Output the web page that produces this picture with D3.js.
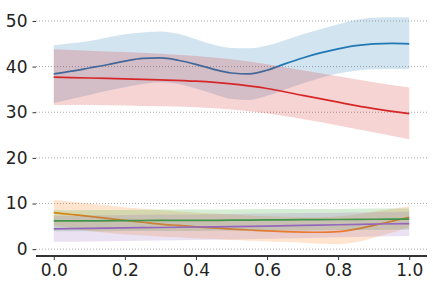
<!DOCTYPE html>
<html>
<head>
<meta charset="utf-8">
<script src="https://cdn.jsdelivr.net/npm/d3@7"></script>
<style>
  body { margin: 0; background: #fff; }
  text { font-family: "DejaVu Sans", sans-serif; }
</style>
</head>
<body>
<div id="chart"></div>
<script>
// sample positions
const xsFine = [0, 0.05, 0.1, 0.15, 0.2, 0.25, 0.3, 0.35, 0.4, 0.45, 0.5, 0.55, 0.6, 0.65, 0.7, 0.75, 0.8, 0.85, 0.9, 0.95, 1.0];
const xs = [0, 0.1, 0.2, 0.3, 0.4, 0.5, 0.6, 0.7, 0.8, 0.9, 1.0];

// blue
const blueMean  = [38.4, 39.0, 39.7, 40.4, 41.2, 41.8, 41.9, 41.4, 40.5, 39.4, 38.6, 38.4, 39.2, 40.6, 41.9, 43.0, 43.9, 44.6, 45.0, 45.1, 45.0];
const blueUpper = [44.7, 45.1, 45.6, 46.4, 47.1, 47.5, 47.7, 47.2, 46.0, 44.8, 44.1, 44.0, 44.6, 45.8, 47.1, 48.2, 49.3, 50.2, 50.7, 50.8, 50.8];
const blueLower = [32.0, 32.9, 33.8, 34.7, 35.5, 36.2, 36.6, 36.2, 35.2, 34.0, 32.9, 32.7, 33.6, 35.0, 36.3, 37.5, 38.5, 39.1, 39.4, 39.5, 39.5];

// orange
const orangeMean  = [8.0, 7.6, 7.2, 6.75, 6.3, 5.9, 5.5, 5.2, 4.9, 4.65, 4.4, 4.2, 4.0, 3.85, 3.75, 3.7, 3.85, 4.4, 5.2, 6.1, 7.0];
const orangeUpper = [10.8, 10.4, 10.0, 9.6, 9.2, 8.85, 8.5, 8.25, 8.0, 7.8, 7.6, 7.4, 7.2, 7.1, 7.0, 7.0, 7.2, 7.6, 8.2, 8.8, 9.4];
const orangeLower = [5.2, 4.6, 4.0, 3.6, 3.2, 3.0, 2.8, 2.6, 2.4, 2.2, 2.0, 1.85, 1.7, 1.55, 1.4, 1.2, 1.1, 1.5, 2.5, 3.6, 4.8];

// green
const greenMean  = [6.2, 6.2, 6.25, 6.3, 6.3, 6.35, 6.4, 6.45, 6.5, 6.55, 6.6];
const greenUpper = [8.5, 8.6, 8.6, 8.7, 8.7, 8.7, 8.8, 8.8, 8.8, 8.9, 8.9];
const greenLower = [3.9, 3.9, 4.0, 4.0, 4.0, 4.1, 4.1, 4.1, 4.2, 4.2, 4.3];

// red
const redMean  = [37.7, 37.5, 37.3, 37.1, 36.8, 36.2, 35.2, 33.7, 32.2, 30.8, 29.7];
const redUpper = [43.8, 43.5, 43.2, 42.8, 42.3, 41.6, 40.5, 39.2, 37.9, 36.6, 35.4];
const redLower = [31.6, 31.6, 31.5, 31.3, 31.1, 30.6, 29.7, 28.5, 27.1, 25.6, 24.1];

// purple
const purpleMean  = [4.45, 4.55, 4.65, 4.75, 4.85, 4.95, 5.05, 5.2, 5.35, 5.5, 5.6];
const purpleUpper = [7.3, 7.4, 7.5, 7.6, 7.6, 7.7, 7.8, 7.9, 8.0, 8.1, 8.2];
const purpleLower = [1.6, 1.7, 1.8, 1.9, 2.0, 2.1, 2.3, 2.4, 2.6, 2.8, 2.9];

const yTicks = [0, 10, 20, 30, 40, 50];
const xTicks = [0, 0.2, 0.4, 0.6, 0.8, 1.0];

const series = [
    {x: xsFine, mean: blueMean, upper: blueUpper, lower: blueLower, color: "#1f77b4"},
    {x: xsFine, mean: orangeMean, upper: orangeUpper, lower: orangeLower, color: "#ff7f0e"},
    {x: xs, mean: greenMean, upper: greenUpper, lower: greenLower, color: "#2ca02c"},
    {x: xs, mean: redMean, upper: redUpper, lower: redLower, color: "#d62728"},
    {x: xs, mean: purpleMean, upper: purpleUpper, lower: purpleLower, color: "#9467bd"}
];

const width = 433,
      height = 288,
      margin = ({top: 5, right: 6, bottom: 32, left: 36});

const svg = d3.select("#chart")
    .append("svg")
    .attr("width", width)
    .attr("height", height);

const x = d3.scaleLinear()
    .domain([-0.05, 1.05])
    .range([margin.left, width - margin.right]);

const y = d3.scaleLinear()
    .domain([-1.5, 53.5])
    .range([height - margin.bottom, margin.top]);

// grid
svg.append("g")
    .selectAll("line")
    .data(yTicks)
    .join("line")
    .attr("x1", margin.left)
    .attr("x2", width - margin.right)
    .attr("y1", d => y(d))
    .attr("y2", d => y(d))
    .attr("stroke", "#aaa")
    .attr("stroke-width", 1)
    .attr("stroke-dasharray", "1,2");

const curve = d3.curveMonotoneX;

for (let s of series) {
    const pts = s.x.map((v, i) => ({x: v, m: s.mean[i], u: s.upper[i], l: s.lower[i]}));

    svg.append("path")
        .datum(pts)
        .attr("fill", s.color)
        .attr("fill-opacity", 0.2)
        .attr("d", d3.area().curve(curve)
            .x(d => x(d.x))
            .y0(d => y(d.l))
            .y1(d => y(d.u)));

    svg.append("path")
        .datum(pts)
        .attr("fill", "none")
        .attr("stroke", s.color)
        .attr("stroke-width", 1.7)
        .attr("d", d3.line().curve(curve)
            .x(d => x(d.x))
            .y(d => y(d.m)));
}

// y axis (no spine)
const yAxis = svg.append("g")
    .attr("transform", `translate(${margin.left},0)`)
    .call(d3.axisLeft(y).tickValues(yTicks).tickSize(3.5).tickPadding(5).tickFormat(d3.format("d")));
yAxis.select(".domain").remove();
yAxis.selectAll("line").attr("stroke", "#333");
yAxis.selectAll("text").attr("font-size", 17).attr("fill", "#222")
    .attr("font-family", "DejaVu Sans");

// x axis
const xAxis = svg.append("g")
    .attr("transform", `translate(0,${height - margin.bottom})`)
    .call(d3.axisBottom(x).tickValues(xTicks).tickSize(4).tickPadding(4).tickFormat(d3.format(".1f")));
xAxis.select(".domain")
    .attr("stroke", "#333")
    .attr("stroke-width", 2)
    .attr("d", `M${margin.left},0H${width - margin.right}`);
xAxis.selectAll("line").attr("stroke", "#333");
xAxis.selectAll("text").attr("font-size", 17).attr("fill", "#222")
    .attr("font-family", "DejaVu Sans");
</script>
</body>
</html>
